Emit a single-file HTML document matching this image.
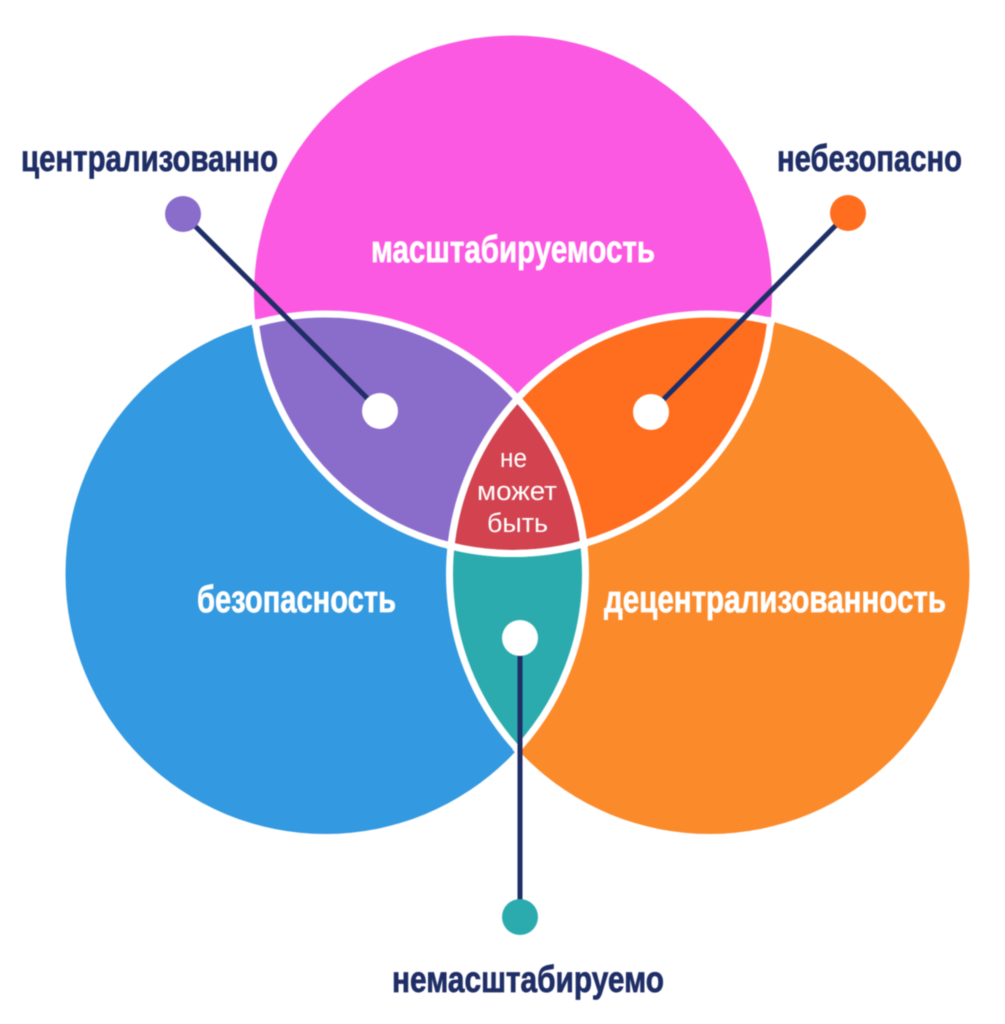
<!DOCTYPE html>
<html lang="ru">
<head>
<meta charset="utf-8">
<title>Трилемма</title>
<style>
html,body{margin:0;padding:0;background:#fff;}
body{width:1005px;height:1024px;overflow:hidden;}
svg{display:block;filter:blur(0.5px);}
text{font-family:"Liberation Sans",sans-serif;}
.b{font-weight:700;}
</style>
</head>
<body>
<svg width="1005" height="1024" viewBox="0 0 1005 1024" xmlns="http://www.w3.org/2000/svg">
<defs>
<clipPath id="cT"><circle cx="513" cy="294.5" r="259"/></clipPath>
<clipPath id="cL"><circle cx="325.5" cy="574" r="260"/></clipPath>
<clipPath id="cR"><circle cx="709.5" cy="574" r="260"/></clipPath>
<clipPath id="xT"><circle cx="513" cy="294.5" r="263"/></clipPath>
<clipPath id="xL"><circle cx="325.5" cy="574" r="264"/></clipPath>
<clipPath id="xR"><circle cx="709.5" cy="574" r="264"/></clipPath>
</defs>
<rect width="1005" height="1024" fill="#fff"/>

<circle cx="513" cy="294.5" r="259" fill="#FB59E2"/>
<circle cx="325.5" cy="574" r="260" fill="#3399E0"/>
<circle cx="709.5" cy="574" r="260" fill="#FB8A2B"/>

<g clip-path="url(#cT)"><circle cx="325.5" cy="574" r="260" fill="#8A6CCB"/></g>
<g clip-path="url(#cT)"><circle cx="709.5" cy="574" r="260" fill="#FF6D1F"/></g>
<g clip-path="url(#cL)"><circle cx="709.5" cy="574" r="260" fill="#2BABAD"/></g>
<g clip-path="url(#cT)"><g clip-path="url(#cL)"><circle cx="709.5" cy="574" r="260" fill="#D2434F"/></g></g>

<g fill="none" stroke="#fff" stroke-width="7">
<g clip-path="url(#xL)"><circle cx="513" cy="294.5" r="259"/></g>
<g clip-path="url(#xR)"><circle cx="513" cy="294.5" r="259"/></g>
<g clip-path="url(#xT)"><circle cx="325.5" cy="574" r="260"/></g>
<g clip-path="url(#xR)"><circle cx="325.5" cy="574" r="260"/></g>
<g clip-path="url(#xT)"><circle cx="709.5" cy="574" r="260"/></g>
<g clip-path="url(#xL)"><circle cx="709.5" cy="574" r="260"/></g>
</g>

<g stroke="#1F2E66" stroke-width="5" fill="none">
<line x1="183" y1="214" x2="380" y2="411"/>
<line x1="848" y1="213" x2="651" y2="412"/>
<line x1="520" y1="638" x2="520" y2="917"/>
</g>

<circle cx="380" cy="411" r="18" fill="#fff"/>
<circle cx="651" cy="412" r="18" fill="#fff"/>
<circle cx="520" cy="638" r="18" fill="#fff"/>
<circle cx="183" cy="214" r="18" fill="#8A6CCB"/>
<circle cx="848" cy="213" r="18" fill="#FF6D1F"/>
<circle cx="520" cy="917" r="18" fill="#2BABAD"/>

<g class="b" fill="#fff" stroke="#fff" stroke-width="0.7" font-size="38">
<text x="371" y="262" textLength="284" lengthAdjust="spacingAndGlyphs">масштабируемость</text>
<text x="197" y="612" textLength="199" lengthAdjust="spacingAndGlyphs">безопасность</text>
<text x="604" y="612" textLength="342" lengthAdjust="spacingAndGlyphs">децентрализованность</text>
</g>

<g class="b" fill="#1F2E66" stroke="#1F2E66" stroke-width="0.7" font-size="37">
<text x="21" y="171" textLength="257" lengthAdjust="spacingAndGlyphs">централизованно</text>
<text x="777" y="171" textLength="185" lengthAdjust="spacingAndGlyphs">небезопасно</text>
<text x="392" y="992" textLength="272" lengthAdjust="spacingAndGlyphs">немасштабируемо</text>
</g>

<g fill="#fff" font-size="27">
<text x="500" y="467" textLength="27" lengthAdjust="spacingAndGlyphs">не</text>
<text x="477" y="500" textLength="80" lengthAdjust="spacingAndGlyphs">может</text>
<text x="487" y="532" textLength="61" lengthAdjust="spacingAndGlyphs">быть</text>
</g>
</svg>
</body>
</html>
